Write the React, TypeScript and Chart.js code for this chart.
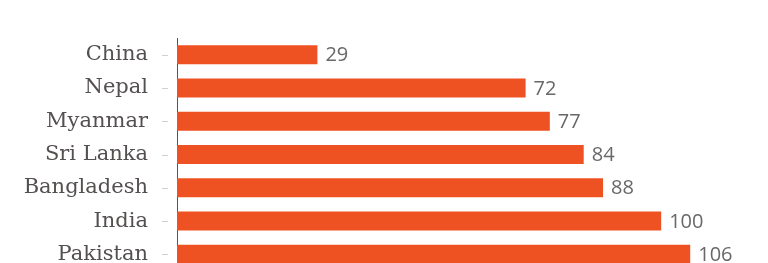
import React, { useEffect, useRef } from "react";
import { Chart, registerables } from "chart.js";

Chart.register(...registerables);

const countries = ["China", "Nepal", "Myanmar", "Sri Lanka", "Bangladesh", "India", "Pakistan"];
const values = [29, 72, 77, 84, 88, 100, 106];

const BAR_COLOR = "#ee5222";

const tickMarks = {
  id: "tickMarks",
  afterDraw(chart: any) {
    const ctx = chart.ctx;
    const ys = chart.scales.y;
    ctx.save();
    ctx.strokeStyle = "#d0d0d0";
    ctx.lineWidth = 1;
    ys.ticks.forEach((_t: any, i: number) => {
      const y = Math.round(ys.getPixelForTick(i)) + 0.5;
      ctx.beginPath();
      ctx.moveTo(ys.right - 15, y);
      ctx.lineTo(ys.right - 9, y);
      ctx.stroke();
    });
    ctx.restore();
  },
};

const valueLabels = {
  id: "valueLabels",
  afterDatasetsDraw(chart: any) {
    const ctx = chart.ctx;
    const meta = chart.getDatasetMeta(0);
    ctx.save();
    ctx.font = '20px "Open Sans"';
    ctx.fillStyle = "#686868";
    ctx.textBaseline = "middle";
    ctx.textAlign = "left";
    meta.data.forEach((bar: any, i: number) => {
      ctx.fillText(String(values[i]), bar.x + 8, bar.y + 1);
    });
    ctx.restore();
  },
};

export default function App() {
  const ref = useRef<HTMLCanvasElement>(null);
  useEffect(() => {
    document.body.style.margin = "0";
    document.documentElement.style.overflow = "hidden";
    document.body.style.overflow = "hidden";
    const chart = new Chart(ref.current!, {
      type: "bar",
      data: {
        labels: countries,
        datasets: [
          {
            data: values,
            backgroundColor: BAR_COLOR,
            borderWidth: 0,
            categoryPercentage: 1,
            barPercentage: 0.57,
          },
        ],
      },
      options: {
        indexAxis: "y",
        animation: false,
        responsive: true,
        maintainAspectRatio: false,
        layout: { padding: { top: 38, bottom: 1, left: 0, right: 10 } },
        plugins: { legend: { display: false }, tooltip: { enabled: false } },
        scales: {
          x: { display: false, min: 0, max: 120 },
          y: {
            afterFit(scale: any) {
              scale.width = 177;
              scale.paddingTop = 0;
              scale.paddingBottom = 0;
            },
            grid: { display: false },
            border: { display: true, color: "#555555", width: 1 },
            ticks: {
              padding: 21,
              color: "#555050",
              font: { family: '"DejaVu Serif"', size: 21 },
            },
          },
        },
      },
      plugins: [tickMarks, valueLabels],
    });
    return () => chart.destroy();
  }, []);
  return (
    <div style={{ width: 768, height: 263, overflow: "hidden", background: "#fff" }}>
      <div style={{ position: "relative", width: 768, height: 272 }}>
        <canvas ref={ref} />
      </div>
    </div>
  );
}
